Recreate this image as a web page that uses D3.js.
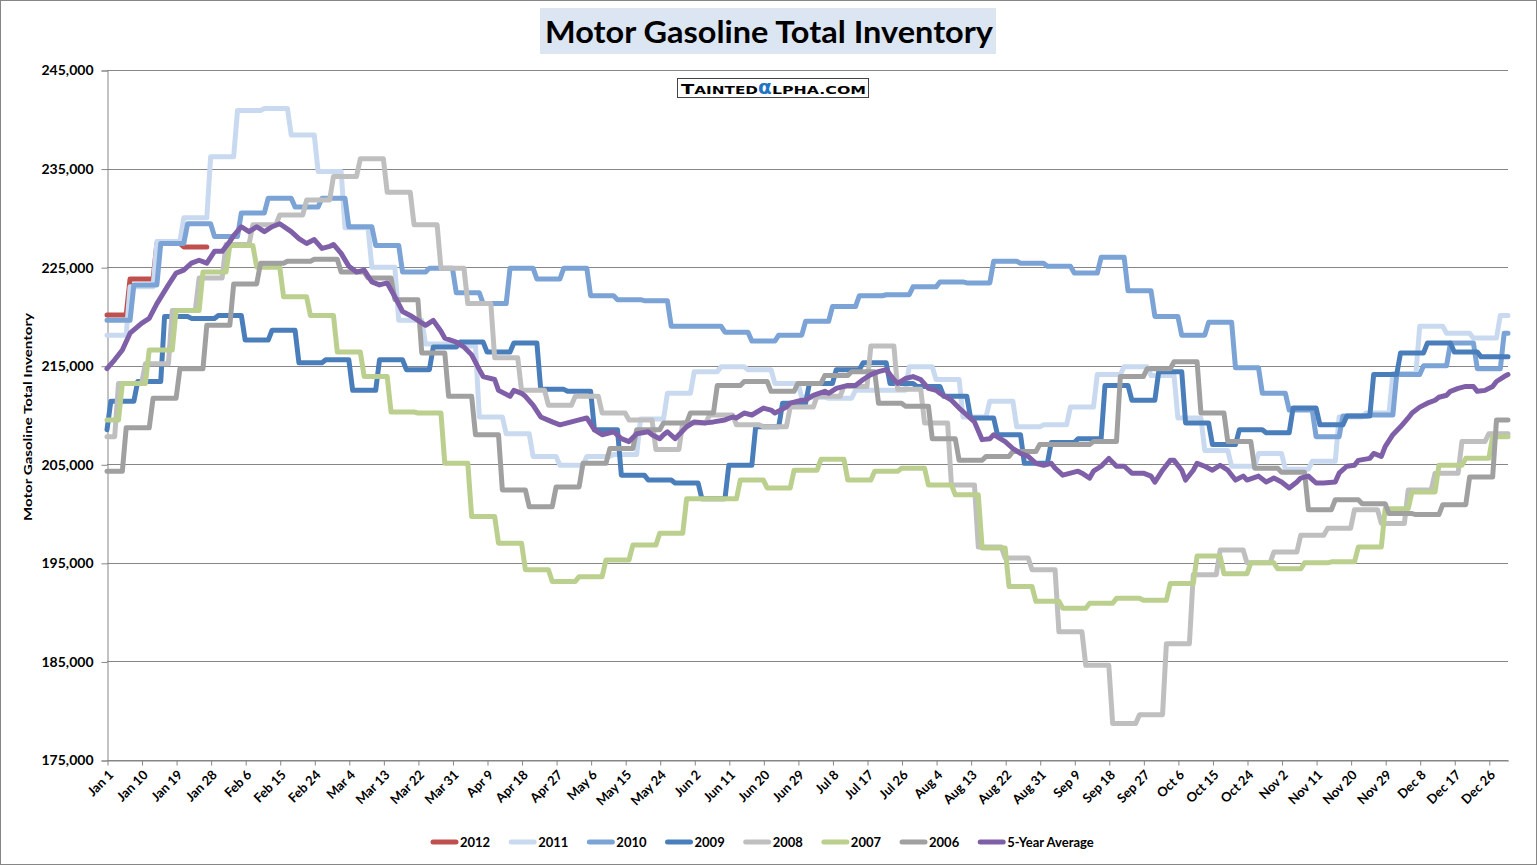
<!DOCTYPE html>
<html>
<head>
<meta charset="utf-8">
<script src="https://cdn.jsdelivr.net/npm/d3@7"></script>
<style>
  body { margin: 0; background: #fff; }
  svg { display: block; font-family: Lato, "Open Sans", sans-serif; }
</style>
</head>
<body>
<div id="chart"></div>
<script>
// ---- data (thousand barrels), one value per EIA week ----
// first value is the one carried in from the previous year, it holds until the first Friday
const seriesNames = ["2012", "2011", "2010", "2009", "2008", "2007", "2006"];
const firstFriday = [6, 6, 7, 1, 3, 4, 5];
const seriesColors = ["#c0504d", "#c9daf0", "#7ba3d5", "#4a7ebb", "#bfbfbf", "#bbd08e", "#a0a0a0"];

const inv2012 = [220150, 223800, 227400, 227050];

const inv2011 = [
  218100, 223000, 227600, 230000, 236200, 240900, 241100, 238400, 234700, 229000,
  225000, 219600, 217200, 217000, 209800, 208100, 205800, 204900, 205800, 206000,
  209600, 212200, 214400, 214900, 214600, 213200, 211800, 211700, 212500, 212500,
  214900, 213600, 209800, 211400, 208800, 209000, 210800, 214100, 214900, 214000,
  209700, 206400, 204800, 206100, 204500, 205300, 209800, 210200, 214200, 219000,
  218300, 217800, 220100];

const inv2010 = [
  219600, 223200, 227400, 229400, 228100, 230500, 232000, 231100, 232000, 229100,
  227200, 224500, 224900, 222400, 221300, 224900, 223800, 224900, 222100, 221700,
  221600, 219000, 219000, 218400, 217500, 218100, 219500, 221000, 222100, 222200,
  223000, 223500, 223400, 225600, 225400, 225100, 224400, 226000, 222600, 220000,
  218100, 219400, 214800, 212200, 210500, 207800, 209900, 210000, 214100, 215000,
  217300, 214700, 218300];

const inv2009 = [
  208500, 211400, 213400, 220000, 219800, 220100, 217600, 218600, 215300, 215600,
  212500, 215600, 214600, 216900, 217400, 216400, 217300, 212600, 212400, 208500,
  203900, 203400, 203100, 201500, 204900, 208800, 211200, 213200, 214600, 215300,
  213200, 212900, 211900, 209700, 208000, 205100, 207200, 207600, 213000, 211500,
  214400, 209200, 207000, 208500, 208200, 210700, 209000, 209900, 214100, 216300,
  217300, 216400, 215900];

const inv2008 = [
  207800, 213200, 215200, 220600, 223900, 227300, 229300, 230300, 231800, 234200,
  236000, 232600, 229300, 224900, 221300, 215800, 212500, 211000, 211900, 210200,
  209500, 206500, 209200, 210000, 209000, 208800, 210800, 211900, 212900, 217000,
  212600, 209200, 202900, 196600, 195500, 194300, 188000, 184600, 178700, 179600,
  186800, 193800, 196300, 195000, 196100, 197800, 198500, 200400, 199000, 202400,
  204100, 207300, 208100];

const inv2007 = [
  209500, 213200, 216600, 220600, 224500, 227200, 225000, 222000, 220100, 216400,
  213900, 210300, 210200, 205100, 199700, 197000, 194300, 193100, 193600, 195300,
  196800, 198000, 201500, 201500, 203400, 202600, 204400, 205500, 203400, 204300,
  204600, 202900, 201900, 196500, 192600, 191100, 190400, 190900, 191400, 191200,
  192900, 195700, 193900, 195000, 194400, 195000, 195100, 196600, 200500, 202200,
  204900, 205600, 207800];

const inv2006 = [
  204300, 208700, 211700, 214700, 219100, 223300, 225400, 225600, 225800, 224500,
  223900, 221700, 216300, 211900, 208000, 202400, 200700, 202700, 205100, 206600,
  208500, 209200, 210200, 213000, 213400, 212400, 213200, 214000, 214400, 211200,
  210900, 207600, 205400, 205800, 206300, 207000, 207000, 207300, 213900, 214700,
  215400, 210200, 207300, 204600, 204200, 200400, 201400, 201000, 200000, 199900,
  200900, 203700, 209500];

// 5-year average
const avgDays = [
  0, 2, 4, 6, 9, 11, 13, 16, 18, 20, 22, 24, 26, 28, 30, 32, 33, 35, 37, 39,
  41, 43, 45, 48, 50, 52, 54, 56, 58, 59, 61, 63, 65, 67, 69, 71, 73, 75, 77, 79,
  81, 83, 85, 87, 88, 91, 93, 95, 97, 98, 101, 102, 105, 106, 108, 109, 111, 113, 116, 118,
  121, 123, 125, 127, 129, 132, 134, 136, 138, 141, 142, 144, 145, 146, 148, 151, 153, 156, 158, 161,
  163, 164, 166, 168, 171, 173, 174, 177, 178, 181, 182, 184, 187, 188, 190, 193, 195, 197, 199, 201,
  203, 205, 206, 208, 210, 212, 214, 216, 217, 220, 222, 224, 226, 228, 230, 231, 234, 236, 238, 240,
  242, 244, 246, 247, 249, 251, 253, 254, 256, 257, 259, 261, 263, 265, 267, 268, 270, 272, 273, 275,
  277, 278, 280, 281, 283, 284, 286, 288, 290, 292, 294, 296, 297, 300, 302, 304, 306, 308, 310, 311,
  313, 315, 317, 320, 321, 323, 325, 326, 329, 330, 332, 333, 335, 337, 339, 340, 342, 344, 346, 347,
  349, 350, 352, 354, 356, 357, 359, 361, 362, 364, 365];
const avgValues = [
  214700, 215600, 216600, 218300, 219300, 219800, 221300, 223200, 224400, 224700,
  225400, 225700, 225400, 226600, 226600, 227600, 228200, 229100, 228600, 229100,
  228600, 229100, 229400, 228600, 227900, 227400, 227800, 226900, 227100, 227300,
  226400, 225100, 224500, 224700, 223500, 223200, 223400, 222000, 220500, 220100,
  219600, 219100, 219600, 218500, 217800, 217400, 216900, 216100, 214600, 213900,
  213600, 212500, 211900, 212500, 212200, 211900, 211000, 209800, 209300, 209000,
  209300, 209500, 209700, 208500, 208000, 208300, 207600, 207300, 208100, 208300,
  208000, 207600, 208000, 208300, 207600, 208800, 209300, 209200, 209300, 209500,
  209800, 209700, 210200, 210000, 210700, 210500, 210200, 210800, 211200, 211500,
  211500, 212000, 212400, 212200, 212700, 213000, 213000, 213600, 214100, 214400,
  214600, 213600, 213200, 213700, 213900, 213600, 212700, 212500, 212200, 211500,
  210700, 210000, 209300, 207500, 207600, 208000, 207300, 206600, 206100, 205800,
  205100, 204900, 205100, 204600, 203900, 204100, 204300, 204100, 203600, 204300,
  204800, 205600, 204800, 204800, 204100, 204100, 204100, 203800, 203200, 204400,
  205400, 205400, 204400, 203400, 204400, 205100, 204800, 204400, 204900, 204400,
  203400, 203800, 203400, 203800, 203200, 203600, 203200, 202600, 203200, 203600,
  203800, 203100, 203100, 203200, 204100, 204800, 204900, 205400, 205600, 206100,
  205800, 206800, 208000, 208800, 209700, 210200, 210800, 211200, 211500, 211800,
  212000, 212400, 212700, 212900, 212900, 212400, 212500, 212900, 213400, 213900,
  214100];

const yTicks = [175000, 185000, 195000, 205000, 215000, 225000, 235000, 245000];
const xTickLabels = ["Jan 1", "Jan 10", "Jan 19", "Jan 28", "Feb 6", "Feb 15", "Feb 24", "Mar 4",
  "Mar 13", "Mar 22", "Mar 31", "Apr 9", "Apr 18", "Apr 27", "May 6", "May 15", "May 24", "Jun 2",
  "Jun 11", "Jun 20", "Jun 29", "Jul 8", "Jul 17", "Jul 26", "Aug 4", "Aug 13", "Aug 22", "Aug 31",
  "Sep 9", "Sep 18", "Sep 27", "Oct 6", "Oct 15", "Oct 24", "Nov 2", "Nov 11", "Nov 20", "Nov 29",
  "Dec 8", "Dec 17", "Dec 26"];
const avgName = "5-Year Average";
const avgColor = "#7f60a8";

const seriesValues = [inv2012, inv2011, inv2010, inv2009, inv2008, inv2007, inv2006];

// ---- chart ----
const W = 1537, H = 865;
const plot = {left: 107, right: 1508, top: 70, bottom: 760};

const svg = d3.select("#chart")
  .append("svg")
    .attr("width", W)
    .attr("height", H);

svg.append("rect")
  .attr("x", 0.5).attr("y", 0.5)
  .attr("width", W - 1).attr("height", H - 1)
  .attr("fill", "#fff")
  .attr("stroke", "#868686");

const x = d3.scaleLinear().domain([0, 365]).range([plot.left, plot.right]);
const y = d3.scaleLinear().domain([175000, 245000]).range([plot.bottom, plot.top]);

// gridlines
svg.append("g")
  .selectAll("line")
  .data(yTicks)
  .join("line")
    .attr("x1", plot.left)
    .attr("x2", plot.right)
    .attr("y1", d => Math.round(y(d)) + 0.5)
    .attr("y2", d => Math.round(y(d)) + 0.5)
    .attr("stroke", "#868686");

// y axis
const yAxis = svg.append("g")
  .attr("transform", `translate(${plot.left + 0.5},0.5)`)
  .call(d3.axisLeft(y).tickValues(yTicks).tickSize(6).tickPadding(8).tickFormat(d3.format(",")));
yAxis.select(".domain").attr("stroke", "#868686");
yAxis.selectAll(".tick line").attr("stroke", "#868686");
yAxis.selectAll("text")
  .attr("font-family", "Lato, sans-serif")
  .attr("font-size", "14px")
  .attr("font-weight", 700)
  .attr("fill", "#000");

// x axis
const xAxis = svg.append("g")
  .attr("transform", `translate(0.5,${plot.bottom + 0.5})`)
  .call(d3.axisBottom(x)
    .tickValues(d3.range(0, 361, 9))
    .tickSize(5)
    .tickSizeOuter(0)
    .tickFormat((d, i) => xTickLabels[i]));
xAxis.select(".domain").attr("stroke", "#868686");
xAxis.selectAll(".tick line").attr("stroke", "#868686");
xAxis.selectAll("text")
  .attr("x", 0).attr("y", 0).attr("dy", "0.35em")
  .attr("transform", "translate(3,12) rotate(-45)")
  .style("text-anchor", "end")
  .attr("font-family", "Lato, sans-serif")
  .attr("font-size", "13px")
  .attr("font-weight", 700)
  .attr("fill", "#000");

// y axis title
svg.append("text")
  .attr("transform", "translate(32,417) rotate(-90)")
  .attr("text-anchor", "middle")
  .attr("font-size", "12px")
  .attr("font-weight", 700)
  .attr("textLength", 208)
  .attr("lengthAdjust", "spacingAndGlyphs")
  .text("Motor Gasoline Total Inventory");

// title
svg.append("rect")
  .attr("x", 540).attr("y", 8)
  .attr("width", 456).attr("height", 46)
  .attr("fill", "#dce6f2");
svg.append("text")
  .attr("x", 769).attr("y", 43)
  .attr("text-anchor", "middle")
  .attr("font-size", "31px")
  .attr("font-weight", 700)
  .attr("textLength", 448)
  .attr("lengthAdjust", "spacingAndGlyphs")
  .text("Motor Gasoline Total Inventory");

// logo
const logo = svg.append("g");
logo.append("rect")
  .attr("x", 677.5).attr("y", 78.5)
  .attr("width", 191).attr("height", 19)
  .attr("fill", "#fff")
  .attr("stroke", "#444");
logo.append("text")
  .attr("x", 681).attr("y", 93.5)
  .attr("font-family", "'DejaVu Sans', sans-serif")
  .attr("font-weight", 700)
  .attr("textLength", 77)
  .attr("lengthAdjust", "spacingAndGlyphs")
  .call(t => {
    t.append("tspan").attr("font-size", "14px").text("T");
    t.append("tspan").attr("font-size", "11px").text("AINTED");
  });
logo.append("text")
  .attr("x", 758).attr("y", 93.5)
  .attr("font-family", "'DejaVu Sans', sans-serif")
  .attr("font-weight", 700)
  .attr("font-size", "20px")
  .attr("fill", "#2474c6")
  .text("α");
logo.append("text")
  .attr("x", 772).attr("y", 93.5)
  .attr("font-family", "'DejaVu Sans', sans-serif")
  .attr("font-weight", 700)
  .attr("font-size", "11px")
  .attr("textLength", 94)
  .attr("lengthAdjust", "spacingAndGlyphs")
  .text("LPHA.COM");

// weekly step points: each weekly value holds for 7 days
function stepPoints(values, first, holdToEnd) {
  const pts = [];
  values.forEach((v, i) => {
    const s = i === 0 ? 0 : first + 7 * (i - 1);
    let e = i === 0 ? first - 1 : s + 6;
    if (holdToEnd && i === values.length - 1) e = 365;
    if (s > 365) return;
    pts.push([s, v], [Math.min(e, 365), v]);
  });
  return pts;
}

const line = d3.line()
  .x(d => x(d[0]))
  .y(d => y(d[1]));

const lines = svg.append("g")
  .attr("fill", "none")
  .attr("stroke-width", 5)
  .attr("stroke-linejoin", "round")
  .attr("stroke-linecap", "round");

seriesNames.forEach((name, i) => {
  lines.append("path")
    .datum(stepPoints(seriesValues[i], firstFriday[i], name !== "2012"))
    .attr("d", line)
    .attr("stroke", seriesColors[i]);
});

lines.append("path")
  .datum(avgDays.map((d, i) => [d, avgValues[i]]))
  .attr("d", line)
  .attr("stroke", avgColor);

// legend
const legend = svg.append("g").attr("transform", "translate(0,842)");
let lx = 431;
seriesNames.concat([avgName]).forEach((name, i) => {
  const color = i < seriesNames.length ? seriesColors[i] : avgColor;
  legend.append("line")
    .attr("x1", lx + 2).attr("x2", lx + 25)
    .attr("stroke", color)
    .attr("stroke-width", 5)
    .attr("stroke-linecap", "round");
  const t = legend.append("text")
    .attr("x", lx + 29)
    .attr("dy", "0.35em")
    .attr("font-size", "13px")
    .attr("font-weight", 700)
    .text(name);
  lx += 29 + t.node().getComputedTextLength() + 19;
});
</script>
</body>
</html>
